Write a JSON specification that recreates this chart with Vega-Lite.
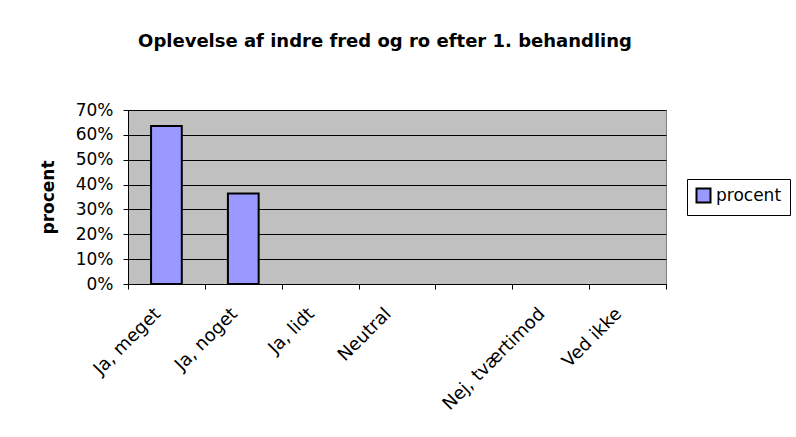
{
  "$schema": "https://vega.github.io/schema/vega-lite/v6.json",
  "autosize": "none",
  "width": 538,
  "height": 174,
  "padding": {"left": 128, "top": 110, "right": 130, "bottom": 153},
  "background": "white",
  "title": {
    "text": "Oplevelse af indre fred og ro efter 1. behandling",
    "font": "DejaVu Sans",
    "fontSize": 18,
    "fontWeight": "bold",
    "color": "black",
    "anchor": "middle",
    "dx": -12,
    "offset": 50
  },
  "data": {
    "values": [
      {"svar": "Ja, meget", "procent": 0.636, "serie": "procent"},
      {"svar": "Ja, noget", "procent": 0.364, "serie": "procent"},
      {"svar": "Ja, lidt", "procent": null, "serie": "procent"},
      {"svar": "Neutral", "procent": null, "serie": "procent"},
      {"svar": " ", "procent": null, "serie": "procent"},
      {"svar": "Nej, tværtimod", "procent": null, "serie": "procent"},
      {"svar": "Ved ikke", "procent": null, "serie": "procent"}
    ]
  },
  "mark": {"type": "bar", "width": {"band": 0.4}, "stroke": "black", "strokeWidth": 2},
  "encoding": {
    "x": {
      "field": "svar",
      "type": "nominal",
      "sort": null,
      "scale": {"domain": ["Ja, meget", "Ja, noget", "Ja, lidt", "Neutral", " ", "Nej, tværtimod", "Ved ikke"], "paddingInner": 0, "paddingOuter": 0},
      "axis": {
        "title": null,
        "labelAngle": -45,
        "labelAlign": "right",
        "labelBaseline": "middle",
        "labelFont": "DejaVu Sans",
        "labelFontSize": 18,
        "labelColor": "black",
        "labelPadding": 22,
        "labelOffset": -9,
        "tickBand": "extent",
        "tickSize": 5,
        "tickColor": "black",
        "domainColor": "black",
        "grid": false
      }
    },
    "y": {
      "field": "procent",
      "type": "quantitative",
      "scale": {"domain": [0, 0.7], "nice": false},
      "axis": {
        "title": "procent",
        "titleFont": "DejaVu Sans",
        "titleFontSize": 17,
        "titleFontWeight": "bold",
        "titleColor": "black",
        "titlePadding": 18,
        "format": ".0%",
        "values": [0, 0.1, 0.2, 0.3, 0.4, 0.5, 0.6, 0.7],
        "labelFont": "DejaVu Sans",
        "labelFontSize": 17,
        "labelColor": "black",
        "labelPadding": 10,
        "tickSize": 5,
        "tickColor": "black",
        "domainColor": "black",
        "grid": true,
        "gridColor": "black",
        "gridWidth": 1
      }
    },
    "color": {
      "field": "serie",
      "type": "nominal",
      "scale": {"range": ["#9999FF"]},
      "legend": {
        "title": null,
        "orient": "none",
        "legendX": 559,
        "legendY": 69,
        "strokeColor": "black",
        "padding": 8,
        "symbolType": "square",
        "symbolSize": 196,
        "symbolStrokeColor": "black",
        "symbolStrokeWidth": 2,
        "symbolOpacity": 1,
        "labelFont": "DejaVu Sans",
        "labelFontSize": 17,
        "labelColor": "black",
        "labelOffset": 4
      }
    }
  },
  "config": {
    "view": {"fill": "#C0C0C0", "stroke": "#808080", "strokeWidth": 1}
  }
}
